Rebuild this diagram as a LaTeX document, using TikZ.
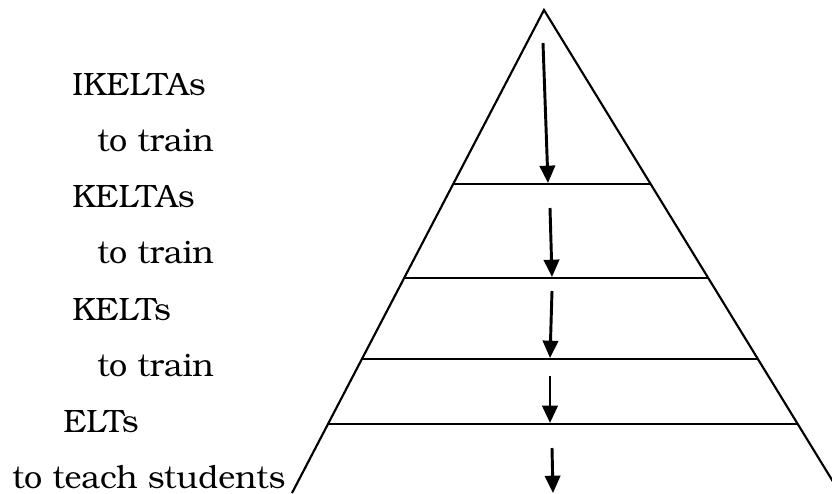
\documentclass[tikz,border=0pt]{standalone}
\usepackage{fontspec}
\setmainfont{TeX Gyre Bonum}
\usepackage{tikz}
\usetikzlibrary{positioning,arrows.meta,calc}

\begin{document}
\begin{tikzpicture}[
    x=0.75pt, y=-0.75pt,
    level/.style={line width=1.6pt},
    lbl/.style={anchor=base west, inner sep=0pt, font=\fontsize{24.2}{29}\selectfont},
    arr/.style={-{Triangle[length=13pt,width=11.5pt]}, line width=2.2pt}
]
\useasboundingbox (0,0) rectangle (832,493);
\clip (0,0) rectangle (832,493);
% pyramid
\coordinate (apex) at (544,10);
\coordinate (bl) at (292,493);
\coordinate (br) at (840,493);
\draw[level] (bl) -- (apex) -- (br);
\foreach \t in {0.3602,0.5549,0.7226,0.8571}
  \draw[level] ($(apex)!\t!(bl)$) -- ($(apex)!\t!(br)$);
% labels
\node[lbl] (ikeltas) at (72,95) {IKELTAs};
\node[lbl] (train1) at (97,151) {to train};
\node[lbl] (keltas) at (72,207) {KELTAs};
\node[lbl] (train2) at (97,263) {to train};
\node[lbl] (kelts) at (72,320) {KELTs};
\node[lbl] (train3) at (97,376) {to train};
\node[lbl] (elts) at (63,432) {ELTs};
\node[lbl] (teach) at (12,488) {to teach students};
% arrows down the pyramid
\coordinate (a1s) at (543,43);  \coordinate (a1e) at (548,183);
\coordinate (a2s) at (550,208); \coordinate (a2e) at (552,277);
\coordinate (a3s) at (552,291); \coordinate (a3e) at (550,358);
\coordinate (a4s) at (550,376); \coordinate (a4e) at (550,423);
\coordinate (a5s) at (552,448); \coordinate (a5e) at (553,493);
\draw[arr] (a1s) -- (a1e); \draw[arr] (a2s) -- (a2e);
\draw[arr] (a3s) -- (a3e); \draw[arr] (a4s) -- (a4e);
\draw[arr] (a5s) -- (a5e);
\end{tikzpicture}
\end{document}
